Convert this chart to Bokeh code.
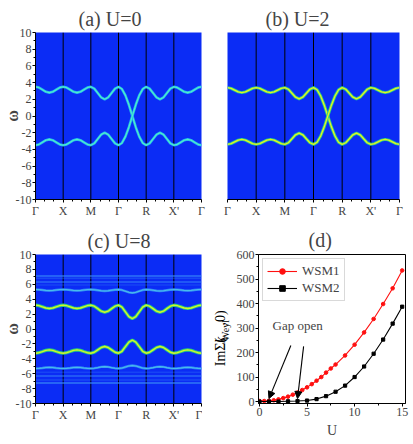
import numpy as np
from bokeh.plotting import figure
from bokeh.layouts import column, row
from bokeh.core.properties import value
from bokeh.models import FixedTicker, Span, Label, Arrow, NormalHead, Legend, LegendItem
from bokeh.embed import file_html
from bokeh.resources import INLINE

SERIF = "Liberation Serif"
BLUE_BG = "#0b2cf5"

# ---------------- data ----------------
hs_labels = ["Γ", "X", "M", "Γ", "R", "X'", "Γ"]
hs_pos = [0, 1, 2, 3, 4, 5, 6]
k_path = np.linspace(0, 6, 49)          # 8 samples per path segment
omega_ticks = [-10, -8, -6, -4, -2, 0, 2, 4, 6, 8, 10]

# (a) U=0 : two bands crossing between Gamma and R
a_band1 = [3.5, 3.4, 3.15, 2.9, 2.8, 2.9, 3.15, 3.4,
           3.5, 3.4, 3.15, 2.9, 2.8, 2.9, 3.15, 3.4,
           3.5, 3.28, 2.75, 2.22, 2.0, 2.22, 2.75, 3.28,
           3.5, 3.23, 2.47, 1.34, 0.0, -1.34, -2.47, -3.23,
           -3.5, -3.28, -2.75, -2.22, -2.0, -2.22, -2.75, -3.28,
           -3.5, -3.4, -3.15, -2.9, -2.8, -2.9, -3.15, -3.4,
           -3.5]
a_band2 = [-3.5, -3.4, -3.15, -2.9, -2.8, -2.9, -3.15, -3.4,
           -3.5, -3.4, -3.15, -2.9, -2.8, -2.9, -3.15, -3.4,
           -3.5, -3.28, -2.75, -2.22, -2.0, -2.22, -2.75, -3.28,
           -3.5, -3.23, -2.47, -1.34, 0.0, 1.34, 2.47, 3.23,
           3.5, 3.28, 2.75, 2.22, 2.0, 2.22, 2.75, 3.28,
           3.5, 3.4, 3.15, 2.9, 2.8, 2.9, 3.15, 3.4,
           3.5]

# (b) U=2
b_band1 = [3.4, 3.31, 3.1, 2.89, 2.8, 2.89, 3.1, 3.31,
           3.4, 3.31, 3.1, 2.89, 2.8, 2.89, 3.1, 3.31,
           3.4, 3.2, 2.73, 2.25, 2.05, 2.25, 2.73, 3.2,
           3.4, 3.14, 2.4, 1.3, 0.0, -1.3, -2.4, -3.14,
           -3.4, -3.2, -2.73, -2.25, -2.05, -2.25, -2.73, -3.2,
           -3.4, -3.31, -3.1, -2.89, -2.8, -2.89, -3.1, -3.31,
           -3.4]
b_band2 = [-3.4, -3.31, -3.1, -2.89, -2.8, -2.89, -3.1, -3.31,
           -3.4, -3.31, -3.1, -2.89, -2.8, -2.89, -3.1, -3.31,
           -3.4, -3.2, -2.73, -2.25, -2.05, -2.25, -2.73, -3.2,
           -3.4, -3.14, -2.4, -1.3, 0.0, 1.3, 2.4, 3.14,
           3.4, 3.2, 2.73, 2.25, 2.05, 2.25, 2.73, 3.2,
           3.4, 3.31, 3.1, 2.89, 2.8, 2.89, 3.1, 3.31,
           3.4]

# (c) U=8 : gapped quasiparticle bands + Hubbard bands
c_up = [3.2, 3.13, 2.98, 2.82, 2.75, 2.82, 2.98, 3.13,
        3.2, 3.13, 2.98, 2.82, 2.75, 2.82, 2.98, 3.13,
        3.2, 3.06, 2.73, 2.39, 2.25, 2.39, 2.73, 3.06,
        3.2, 2.94, 2.3, 1.66, 1.4, 1.66, 2.3, 2.94,
        3.2, 3.06, 2.73, 2.39, 2.25, 2.39, 2.73, 3.06,
        3.2, 3.13, 2.98, 2.82, 2.75, 2.82, 2.98, 3.13,
        3.2]
c_dn = [-3.25, -3.18, -3.03, -2.87, -2.8, -2.87, -3.03, -3.18,
        -3.25, -3.18, -3.03, -2.87, -2.8, -2.87, -3.03, -3.18,
        -3.25, -3.12, -2.8, -2.48, -2.35, -2.48, -2.8, -3.12,
        -3.25, -2.99, -2.37, -1.76, -1.5, -1.76, -2.37, -2.99,
        -3.25, -3.12, -2.8, -2.48, -2.35, -2.48, -2.8, -3.12,
        -3.25, -3.18, -3.03, -2.87, -2.8, -2.87, -3.03, -3.18,
        -3.25]
c_hub_up = [5.3, 5.28, 5.23, 5.17, 5.15, 5.17, 5.23, 5.28,
            5.3, 5.28, 5.23, 5.17, 5.15, 5.17, 5.23, 5.28,
            5.3, 5.27, 5.2, 5.13, 5.1, 5.13, 5.2, 5.27,
            5.3, 5.23, 5.08, 4.92, 4.85, 4.92, 5.08, 5.23,
            5.3, 5.27, 5.2, 5.13, 5.1, 5.13, 5.2, 5.27,
            5.3, 5.28, 5.23, 5.17, 5.15, 5.17, 5.23, 5.28,
            5.3]
c_hub_dn = [-5.3, -5.28, -5.23, -5.17, -5.15, -5.17, -5.23, -5.28,
            -5.3, -5.28, -5.23, -5.17, -5.15, -5.17, -5.23, -5.28,
            -5.3, -5.26, -5.18, -5.09, -5.05, -5.09, -5.18, -5.26,
            -5.3, -5.24, -5.1, -4.96, -4.9, -4.96, -5.1, -5.24,
            -5.3, -5.26, -5.18, -5.09, -5.05, -5.09, -5.18, -5.26,
            -5.3, -5.28, -5.23, -5.17, -5.15, -5.17, -5.23, -5.28,
            -5.3]
c_flat_levels = [7.1, 6.8, 6.3, 5.9, -5.8, -6.3, -6.85, -7.25]
c_flat_alpha = [0.75, 0.3, 0.6, 0.25, 0.25, 0.6, 0.3, 0.8]

# (d) Im Sigma(k_Weyl, 0) vs U
U_wsm1 = [0, 0.5, 1, 1.5, 2, 2.5, 3, 3.5, 4, 4.5, 5, 5.5, 6, 6.5, 7, 7.5, 8,
          9, 10, 11, 12, 13, 14, 15]
wsm1 = [2, 2, 3, 5, 9, 14, 20, 28, 37, 47, 58, 71, 85, 100, 118, 135, 151,
        188, 232, 282, 337, 398, 462, 535]
U_wsm2 = [0, 1, 2, 3, 4, 5, 6, 7, 8, 9, 10, 11, 12, 13, 14, 15]
wsm2 = [0, 0, 0, 1, 2, 4, 10, 22, 40, 65, 100, 143, 195, 253, 318, 387]
gap_open_U = [1, 4]

# y-label of panel (d): pieces (text, size, style)
d_ylabel_parts = [("ImΣ(", "14px", "normal"), ("k", "14px", "italic"),
                  ("Weyl", "10px", "normal"), (",0)", "14px", "normal")]


# ---------------- helpers ----------------
def band_panel(title, title_offset, width, height, left, right, top, bottom, show_y):
    p = figure(width=width, height=height, x_range=(0, 6), y_range=(-10, 10),
               output_backend="svg", toolbar_location=None,
               min_border_left=left, min_border_right=right,
               min_border_top=top, min_border_bottom=bottom)
    p.background_fill_color = BLUE_BG
    p.border_fill_color = "white"
    p.outline_line_color = None
    p.grid.visible = False
    p.title.text = title
    p.title.align = "left"
    p.title.offset = title_offset
    p.title.standoff = 5
    p.title.text_font = SERIF
    p.title.text_font_size = "20px"
    p.title.text_font_style = "normal"

    xa = p.xaxis[0]
    xa.ticker = FixedTicker(ticks=hs_pos, minor_ticks=[i / 3 for i in range(19) if i % 3])
    xa.major_label_overrides = {pos: lab for pos, lab in zip(hs_pos, hs_labels)}
    xa.major_label_text_font = SERIF
    xa.major_label_text_font_size = "12px"
    xa.major_label_standoff = 1
    xa.major_tick_out = 3
    xa.major_tick_in = 0
    xa.minor_tick_out = 2
    xa.minor_tick_in = 0
    xa.axis_line_color = "black"

    ya = p.yaxis[0]
    if show_y:
        ya.ticker = FixedTicker(ticks=omega_ticks, minor_ticks=list(range(-9, 10, 2)))
        ya.major_label_overrides = {t: str(t) for t in omega_ticks}
        ya.major_label_text_font = SERIF
        ya.major_label_text_font_size = "12px"
        ya.major_label_standoff = 1
        ya.major_tick_out = 3
        ya.major_tick_in = 0
        ya.minor_tick_out = 2
        ya.minor_tick_in = 0
        ya.axis_label = "ω"
        ya.axis_label_text_font = SERIF
        ya.axis_label_text_font_size = "16px"
        ya.axis_label_text_font_style = "bold"
        ya.axis_label_standoff = -8
    else:
        ya.visible = False

    for xpos in hs_pos[1:-1]:
        p.add_layout(Span(location=xpos, dimension="height", line_color="black",
                          line_width=1, level="underlay"))
    return p


def draw_band(p, vals, outer, inner, w_out, w_in):
    p.line(k_path, vals, line_color=outer, line_width=w_out)
    p.line(k_path, vals, line_color=inner, line_width=w_in)


# ---------------- panel (a) ----------------
pa = band_panel("(a) U=0", 43, 206, 220, 30, 5, 32, 18, True)
for b in (a_band1, a_band2):
    draw_band(pa, b, "#22b4f0", "#50f0c8", 2.6, 1.1)

# ---------------- panel (b) ----------------
pb = band_panel("(b) U=2", 38, 207, 220, 21, 14, 32, 18, False)
for b in (b_band1, b_band2):
    draw_band(pb, b, "#28d08a", "#e8f020", 3.0, 1.3)

# ---------------- panel (c) ----------------
pc = band_panel("(c) U=8", 52, 202, 224, 30, 1, 29, 23, True)
n_flat = len(c_flat_levels)
pc.segment(x0=[hs_pos[0]] * n_flat, x1=[hs_pos[-1]] * n_flat,
           y0=c_flat_levels, y1=c_flat_levels,
           line_color="#3a8cf8", line_width=1.5, line_alpha=c_flat_alpha)
for b in (c_hub_up, c_hub_dn):
    draw_band(pc, b, "#2f86f5", "#48bcec", 2.4, 1.1)
for b in (c_up, c_dn):
    draw_band(pc, b, "#26d07e", "#d8f22a", 3.2, 1.4)

# ---------------- y label strip for panel (d) ----------------
strip_w, strip_h = 31, 224
pl = figure(width=strip_w, height=strip_h, x_range=(0, strip_w), y_range=(0, strip_h),
            output_backend="svg", toolbar_location=None,
            x_axis_location=None, y_axis_location=None,
            min_border_left=0, min_border_right=0, min_border_top=0, min_border_bottom=0)
pl.outline_line_color = None
pl.grid.visible = False
# centre (pixels within the strip) of each rotated label piece
piece_x = [18, 18, 23, 18]
piece_y = [77.3, 95.6, 109.8, 128.5]
for (txt, size, style), px, py in zip(d_ylabel_parts, piece_x, piece_y):
    pl.text(x=[px], y=[py], text=[txt], angle=np.pi / 2,
            text_align="center", text_baseline="middle",
            text_font=value(SERIF), text_font_size=value(size),
            text_font_style=style, text_color="black")

# ---------------- panel (d) ----------------
pd = figure(width=180, height=224, x_range=(-0.1, 15.35), y_range=(-8, 600),
            output_backend="svg", toolbar_location=None,
            min_border_left=22, min_border_right=8, min_border_top=34, min_border_bottom=41)
pd.grid.visible = False
pd.outline_line_color = "black"
pd.outline_line_width = 1
pd.background_fill_color = "white"
pd.title.text = "(d)"
pd.title.align = "left"
pd.title.offset = 50
pd.title.standoff = 8
pd.title.text_font = SERIF
pd.title.text_font_size = "20px"
pd.title.text_font_style = "normal"

xa = pd.xaxis[0]
xa.ticker = FixedTicker(ticks=[0, 5, 10, 15], minor_ticks=[2.5, 7.5, 12.5])
xa.axis_label = "U"
xa.axis_label_text_font = SERIF
xa.axis_label_text_font_size = "14px"
xa.axis_label_text_font_style = "normal"
xa.axis_label_standoff = 4
ya = pd.yaxis[0]
ya.ticker = FixedTicker(ticks=[0, 100, 200, 300, 400, 500, 600],
                        minor_ticks=[50, 150, 250, 350, 450, 550])
for ax in (xa, ya):
    ax.major_label_text_font = SERIF
    ax.major_label_text_font_size = "12px"
    ax.major_label_standoff = 1
    ax.major_tick_out = 3
    ax.major_tick_in = 0
    ax.minor_tick_out = 2
    ax.minor_tick_in = 0
    ax.axis_line_color = "black"

r1l = pd.line(U_wsm1, wsm1, line_color="#ff1010", line_width=1.1)
r1s = pd.scatter(U_wsm1, wsm1, marker="circle", size=3.6, color="#ff1010")
r2l = pd.line(U_wsm2, wsm2, line_color="black", line_width=1.1)
r2s = pd.scatter(U_wsm2, wsm2, marker="square", size=3.2, color="black")

legend = Legend(items=[LegendItem(label="WSM1", renderers=[r1l, r1s]),
                       LegendItem(label="WSM2", renderers=[r2l, r2s])],
                location="top_left", margin=4, padding=4, spacing=1,
                glyph_width=30, glyph_height=14, label_height=14, label_standoff=5,
                label_text_font=SERIF, label_text_font_size="13px",
                border_line_color="#b4b4b4", border_line_width=1)
pd.add_layout(legend)

# "Gap open" annotation with arrows pointing at the gap-opening U values
pd.add_layout(Label(x=4.02, y=310, text="Gap open", text_align="center",
                    text_baseline="middle", text_font=SERIF, text_font_size="13px"))
gap_y = [wsm1[U_wsm1.index(gap_open_U[0])] + 9, wsm2[U_wsm2.index(gap_open_U[1])] + 10]
for xs, ys, xe, ye in ((3.3, 229, gap_open_U[0], gap_y[0]), (4.64, 225, gap_open_U[1], gap_y[1])):
    pd.add_layout(Arrow(end=NormalHead(size=7, fill_color="black", line_color="black", line_width=1),
                        x_start=xs, y_start=ys, x_end=xe, y_end=ye,
                        line_color="black", line_width=1.1))

layout = column(row(pa, pb), row(pc, pl, pd))
open("out.html", "w").write(file_html(layout, INLINE))
